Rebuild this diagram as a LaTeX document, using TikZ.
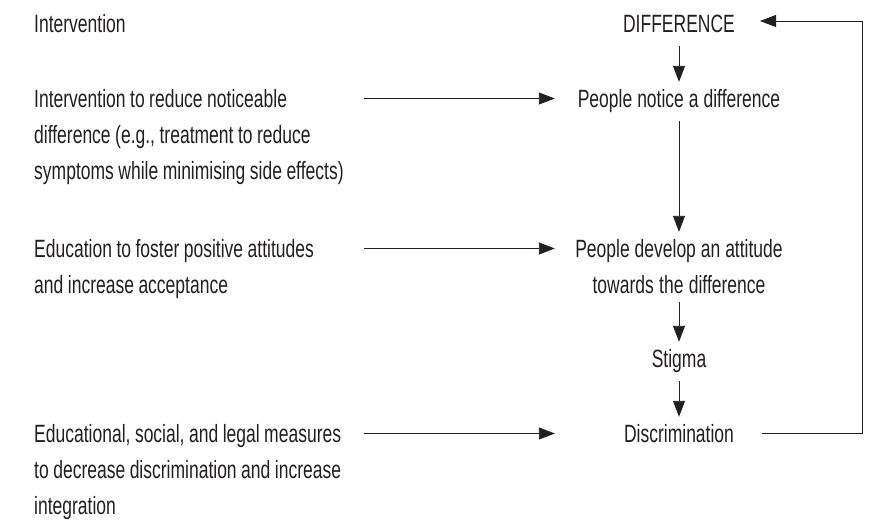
\documentclass[tikz,border=0pt]{standalone}
\usepackage{fontspec}
\setmainfont[FakeStretch=0.70]{Liberation Sans}
\usetikzlibrary{arrows.meta}
\definecolor{ink}{RGB}{35, 31, 32}
\newcommand\colL{34}
\newcommand\colR{679}
\newcommand\ahgt{8.5pt}
\newcommand\tightspace{\spaceskip=0.18em plus 0.05em minus 0.02em\relax}
\tikzset{measure/.style = {anchor=base west, inner sep=0pt, text width=330pt, align=left, execute at begin node=\tightspace}}
\tikzset{effect/.style = {anchor=base, inner sep=0pt, text width=240pt, align=center, text height=17pt, text depth=5pt, execute at begin node=\tightspace}}
\tikzset{flow/.style = {line width=0.9pt, -{Triangle[length=16pt,width=12pt]}, shorten <=9pt, shorten >=8pt}}

\begin{document}
\begin{tikzpicture}[x=1pt,y=-1pt,color=ink,font=\fontsize{25}{36}\selectfont]
\useasboundingbox (0,0) rectangle (873,520);

\node[measure] (title) at (\colL,32) {Intervention};
\node[measure] (reduce) at (\colL,107) {Intervention to reduce noticeable\\difference (e.g., treatment to reduce\\symptoms while minimising side effects)};
\node[measure] (foster) at (\colL,257) {Education to foster positive attitudes\\and increase acceptance};
\node[measure] (measures) at (\colL,442) {Educational, social, and legal measures\\to decrease discrimination and increase\\integration};

\node[effect] (diff) at (\colR,32) {DIFFERENCE};
\node[effect] (notice) at (\colR,107) {People notice a difference};
\node[effect, text depth=36pt] (develop) at (\colR,257) {People develop an attitude\\towards the difference};
\node[effect] (stigma) at (\colR,367) {Stigma};
\node[effect] (discr) at (\colR,442) {Discrimination};

\foreach \a/\b in {diff/notice, notice/develop, develop/stigma, stigma/discr}
	\draw[flow] (\a.south) -- (\b.north);

\foreach \l/\r in {reduce/notice, foster/develop, measures/discr}
	\draw[flow, shorten <=0pt, shorten >=0pt] ([yshift=\ahgt]\l.base east) -- ([shift={(-4pt,\ahgt)}]\r.base west);

\draw[flow, shorten <=0pt, shorten >=0pt] ([shift={(83pt,\ahgt)}]discr.base) -- ++(100,0) |- ([shift={(81pt,11pt)}]diff.base);
\end{tikzpicture}
\end{document}
